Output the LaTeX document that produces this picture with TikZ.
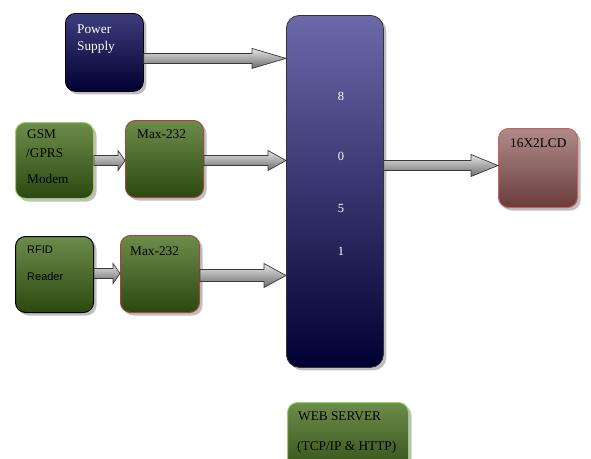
\documentclass[tikz,border=0pt]{standalone}
\usepackage{fontspec}
\setmainfont{Liberation Serif}
\newfontfamily\sansf{Liberation Sans}
\usetikzlibrary{calc,shadows}
\definecolor{navyTop}{HTML}{3E3D7C}
\definecolor{navyBot}{HTML}{000033}
\definecolor{mcuTop}{HTML}{6A6AAA}
\definecolor{greenTop}{HTML}{6C8C4A}
\definecolor{greenBot}{HTML}{2C4810}
\definecolor{lgBorder}{HTML}{9ACD6A}
\definecolor{redBorder}{HTML}{A84444}
\definecolor{lcdTop}{HTML}{B08A8A}
\definecolor{lcdBot}{HTML}{6A3C3C}
\definecolor{lcdBorder}{HTML}{C06464}
\tikzset{
  box/.style={rounded corners=10pt, anchor=north west, inner sep=0pt,
    drop shadow={shadow xshift=3pt, shadow yshift=-3pt, fill=black!25, opacity=1}},
  navybox/.style={box, top color=navyTop, bottom color=navyBot, draw=black, line width=0.8pt},
  mcubox/.style={box, rounded corners=13pt, top color=mcuTop, bottom color=navyBot, draw=black!80, line width=0.8pt},
  greenbox/.style={box, top color=greenTop, bottom color=greenBot, line width=1pt},
  lcdbox/.style={box, top color=lcdTop, bottom color=lcdBot, draw=lcdBorder, line width=1pt},
  lbl/.style={anchor=base west, inner sep=0pt, font=\fontsize{13.3}{15}\selectfont},
  slbl/.style={anchor=base west, inner sep=0pt, font=\sansf\fontsize{11}{13}\selectfont},
  dig/.style={anchor=base, inner sep=0pt, text=white, font=\fontsize{12.5}{14}\selectfont},
  arr/.style={top color=gray!20, bottom color=gray!85!black, draw=gray!45!black, line width=0.7pt, line join=miter}
}
% #1 start coordinate, #2 end coordinate (same y), #3 shaft half width, #4 head half width, #5 head length
\newcommand{\blockarrow}[5]{%
  \path[arr] let \p1=(#1), \p2=(#2) in
    (\x1,{\y1+#3}) -- ({\x2-#5},{\y1+#3}) -- ({\x2-#5},{\y1+#4}) -- (\x2,\y1)
    -- ({\x2-#5},{\y1-#4}) -- ({\x2-#5},{\y1-#3}) -- (\x1,{\y1-#3}) -- cycle;}
\begin{document}
\begin{tikzpicture}[x=1pt,y=-1pt]
\clip (0,0) rectangle (591,458);
\fill[white] (0,0) rectangle (591,458);

% boxes
\node[navybox, minimum width=78pt, minimum height=78pt] (ps) at (65,13) {};
\node[mcubox, minimum width=97pt, minimum height=352pt] (mcu) at (286,15) {};
\node[greenbox, draw=lgBorder, minimum width=78pt, minimum height=76pt] (gsm) at (15,122) {};
\node[greenbox, draw=redBorder, minimum width=78pt, minimum height=77pt] (max1) at (125,120) {};
\node[greenbox, draw=black, minimum width=78pt, minimum height=76pt] (rfid) at (15,236) {};
\node[greenbox, draw=redBorder, minimum width=79pt, minimum height=77pt] (max2) at (120,235) {};
\node[lcdbox, minimum width=79pt, minimum height=79pt] (lcd) at (498,128) {};
\node[greenbox, draw=lgBorder, minimum width=121pt, minimum height=80pt] (web) at (287,402) {};

% labels
\node[lbl, text=white] at ($(ps.north west)+(12,20)$) {Power};
\node[lbl, text=white] at ($(ps.north west)+(12,37)$) {Supply};
\node[dig] at ($(mcu.north west)+(55,85)$) {8};
\node[dig] at ($(mcu.north west)+(55,145)$) {0};
\node[dig] at ($(mcu.north west)+(55,197)$) {5};
\node[dig] at ($(mcu.north west)+(55,240)$) {1};
\node[lbl] at ($(gsm.north west)+(12,16)$) {GSM};
\node[lbl] at ($(gsm.north west)+(11,35)$) {/GPRS};
\node[lbl] at ($(gsm.north west)+(12,61)$) {Modem};
\node[lbl] at ($(max1.north west)+(12,18)$) {Max-232};
\node[slbl] at ($(rfid.north west)+(12,17)$) {RFID};
\node[slbl] at ($(rfid.north west)+(12,44)$) {Reader};
\node[lbl] at ($(max2.north west)+(10,20)$) {Max-232};
\node[lbl] at ($(lcd.north west)+(12,19)$) {16X2LCD};
\node[lbl] at ($(web.north west)+(11,18)$) {WEB SERVER};
\node[lbl] at ($(web.north west)+(10,48)$) {(TCP/IP \& HTTP)};

% arrows
\coordinate (a1s) at ($(ps.east)+(0,6)$);
\coordinate (a1e) at (mcu.west |- a1s);
\blockarrow{a1s}{a1e}{5}{10}{34}
\coordinate (a2s) at (gsm.east);
\coordinate (a2e) at (max1.west |- a2s);
\blockarrow{a2s}{a2e}{5}{10}{7}
\coordinate (a3s) at ($(max1.east)+(0,1.5)$);
\coordinate (a3e) at (mcu.west |- a3s);
\blockarrow{a3s}{a3e}{5}{10}{18}
\coordinate (a4s) at ($(rfid.east)+(0,-1)$);
\coordinate (a4e) at (max2.west |- a4s);
\blockarrow{a4s}{a4e}{5}{10}{7}
\coordinate (a5s) at ($(max2.east)+(0,1.5)$);
\coordinate (a5e) at (mcu.west |- a5s);
\blockarrow{a5s}{a5e}{6}{12}{22}
\coordinate (a6e) at ($(lcd.west)+(0,-2.5)$);
\coordinate (a6s) at (mcu.east |- a6e);
\blockarrow{a6s}{a6e}{5}{11}{27}
\end{tikzpicture}
\end{document}
